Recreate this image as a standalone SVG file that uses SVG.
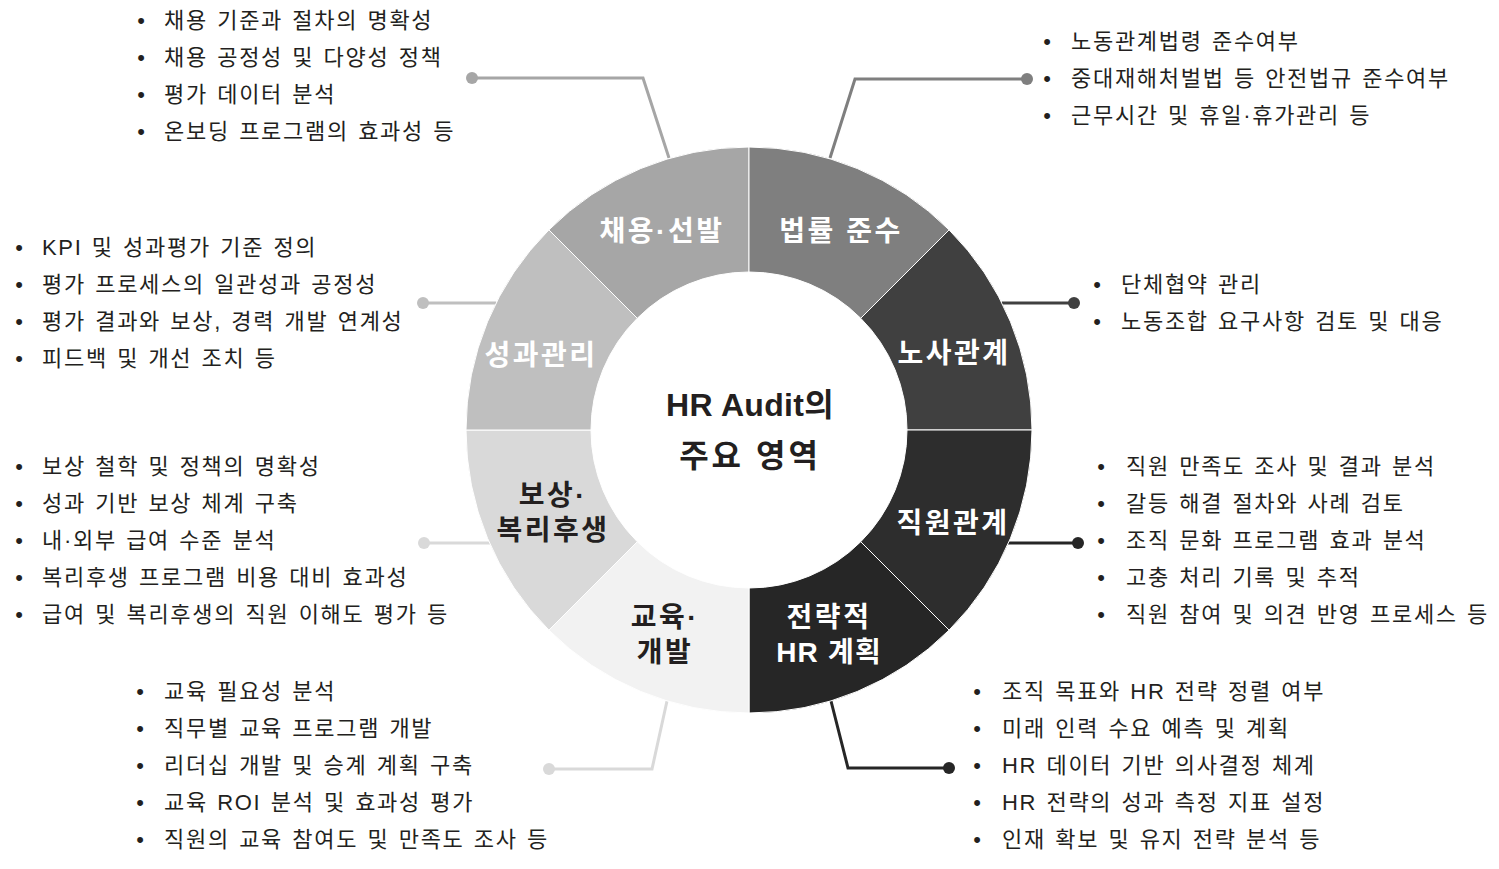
<svg xmlns="http://www.w3.org/2000/svg" width="1499" height="869" viewBox="0 0 1499 869">
<style>
.seg{stroke:#fff;stroke-width:1}
.lbl{font-family:"Liberation Sans","Noto Sans CJK KR",sans-serif;font-weight:bold;font-size:28px;text-anchor:middle;letter-spacing:2.5px}
.ctr{font-size:32px}
.w{fill:#fff}
.d{fill:#231f20}
.item{font-family:"Liberation Sans","Noto Sans CJK KR",sans-serif;font-size:22px;fill:#231f20;letter-spacing:1.7px;word-spacing:1.5px}
.bul{font-family:"Liberation Sans","Noto Sans CJK KR",sans-serif;font-size:22px;fill:#231f20;text-anchor:middle}
.conn{fill:none;stroke-width:3}
</style>
<rect width="1499" height="869" fill="#fff"/>
<g id="connectors">
<polyline class="conn" stroke="#a6a6a6" points="472,78 643,78 669,158"/><circle cx="472" cy="78" r="6" fill="#a6a6a6"/>
<polyline class="conn" stroke="#7f7f7f" points="1027,79 855,79 830,158"/><circle cx="1027" cy="79" r="6" fill="#7f7f7f"/>
<polyline class="conn" stroke="#404040" points="1074,303 1002,303"/><circle cx="1074" cy="303" r="6" fill="#404040"/>
<polyline class="conn" stroke="#bfbfbf" points="423,303 496,303"/><circle cx="423" cy="303" r="6" fill="#bfbfbf"/>
<polyline class="conn" stroke="#d9d9d9" points="424,543 490,543"/><circle cx="424" cy="543" r="6" fill="#d9d9d9"/>
<polyline class="conn" stroke="#262626" points="1078,543 1008,543"/><circle cx="1078" cy="543" r="6" fill="#262626"/>
<polyline class="conn" stroke="#d9d9d9" points="549,769 652,769 667,701"/><circle cx="549" cy="769" r="6" fill="#d9d9d9"/>
<polyline class="conn" stroke="#262626" points="949,768 848,768 831,701"/><circle cx="949" cy="768" r="6" fill="#262626"/>
</g>
<g id="node-center">
<circle cx="749" cy="430" r="158" fill="#fff"/>
<text class="lbl ctr d" x="750" y="416" style="letter-spacing:0.3px">HR Audit의</text>
<text class="lbl ctr d" x="750" y="467" style="letter-spacing:3px">주요 영역</text>
</g>
<g id="node-recruit">
<path class="seg" fill="#a6a6a6" d="M548.89,229.89 A283,283 0 0 1 749,147 L749,272 A158,158 0 0 0 637.28,318.28 Z"/>
<text class="lbl w" x="662" y="241">채용·선발</text>
<text class="bul"><tspan x="141" y="28">•</tspan><tspan x="141" y="65">•</tspan><tspan x="141" y="102">•</tspan><tspan x="141" y="139">•</tspan></text>
<text class="item"><tspan x="164" y="28">채용 기준과 절차의 명확성</tspan><tspan x="164" y="65">채용 공정성 및 다양성 정책</tspan><tspan x="164" y="102">평가 데이터 분석</tspan><tspan x="164" y="139">온보딩 프로그램의 효과성 등</tspan></text>
</g>
<g id="node-legal">
<path class="seg" fill="#7f7f7f" d="M749,147 A283,283 0 0 1 949.11,229.89 L860.72,318.28 A158,158 0 0 0 749,272 Z"/>
<text class="lbl w" x="841" y="241">법률 준수</text>
<text class="bul"><tspan x="1047" y="49">•</tspan><tspan x="1047" y="86">•</tspan><tspan x="1047" y="123">•</tspan></text>
<text class="item"><tspan x="1071" y="49">노동관계법령 준수여부</tspan><tspan x="1071" y="86">중대재해처벌법 등 안전법규 준수여부</tspan><tspan x="1071" y="123">근무시간 및 휴일·휴가관리 등</tspan></text>
</g>
<g id="node-labor">
<path class="seg" fill="#404040" d="M949.11,229.89 A283,283 0 0 1 1032,430 L907,430 A158,158 0 0 0 860.72,318.28 Z"/>
<text class="lbl w" x="954" y="363">노사관계</text>
<text class="bul"><tspan x="1097" y="292">•</tspan><tspan x="1097" y="329">•</tspan></text>
<text class="item"><tspan x="1121" y="292">단체협약 관리</tspan><tspan x="1121" y="329">노동조합 요구사항 검토 및 대응</tspan></text>
</g>
<g id="node-employee">
<path class="seg" fill="#2d2d2d" d="M1032,430 A283,283 0 0 1 949.11,630.11 L860.72,541.72 A158,158 0 0 0 907,430 Z"/>
<text class="lbl w" x="953" y="533">직원관계</text>
<text class="bul"><tspan x="1101" y="474">•</tspan><tspan x="1101" y="511">•</tspan><tspan x="1101" y="548">•</tspan><tspan x="1101" y="585">•</tspan><tspan x="1101" y="622">•</tspan></text>
<text class="item"><tspan x="1126" y="474">직원 만족도 조사 및 결과 분석</tspan><tspan x="1126" y="511">갈등 해결 절차와 사례 검토</tspan><tspan x="1126" y="548">조직 문화 프로그램 효과 분석</tspan><tspan x="1126" y="585">고충 처리 기록 및 추적</tspan><tspan x="1126" y="622">직원 참여 및 의견 반영 프로세스 등</tspan></text>
</g>
<g id="node-strategy">
<path class="seg" fill="#262626" d="M949.11,630.11 A283,283 0 0 1 749,713 L749,588 A158,158 0 0 0 860.72,541.72 Z"/>
<text class="lbl w" x="829" y="627">전략적</text>
<text class="lbl w" x="829" y="662" style="letter-spacing:1.2px">HR 계획</text>
<text class="bul"><tspan x="977" y="699">•</tspan><tspan x="977" y="736">•</tspan><tspan x="977" y="773">•</tspan><tspan x="977" y="810">•</tspan><tspan x="977" y="847">•</tspan></text>
<text class="item"><tspan x="1002" y="699">조직 목표와 HR 전략 정렬 여부</tspan><tspan x="1002" y="736">미래 인력 수요 예측 및 계획</tspan><tspan x="1002" y="773">HR 데이터 기반 의사결정 체계</tspan><tspan x="1002" y="810">HR 전략의 성과 측정 지표 설정</tspan><tspan x="1002" y="847">인재 확보 및 유지 전략 분석 등</tspan></text>
</g>
<g id="node-training">
<path class="seg" fill="#f2f2f2" d="M749,713 A283,283 0 0 1 548.89,630.11 L637.28,541.72 A158,158 0 0 0 749,588 Z"/>
<text class="lbl d" x="665" y="627">교육·</text>
<text class="lbl d" x="665" y="662">개발</text>
<text class="bul"><tspan x="140" y="699">•</tspan><tspan x="140" y="736">•</tspan><tspan x="140" y="773">•</tspan><tspan x="140" y="810">•</tspan><tspan x="140" y="847">•</tspan></text>
<text class="item"><tspan x="164" y="699">교육 필요성 분석</tspan><tspan x="164" y="736">직무별 교육 프로그램 개발</tspan><tspan x="164" y="773">리더십 개발 및 승계 계획 구축</tspan><tspan x="164" y="810">교육 ROI 분석 및 효과성 평가</tspan><tspan x="164" y="847">직원의 교육 참여도 및 만족도 조사 등</tspan></text>
</g>
<g id="node-compensation">
<path class="seg" fill="#d9d9d9" d="M548.89,630.11 A283,283 0 0 1 466,430 L591,430 A158,158 0 0 0 637.28,541.72 Z"/>
<text class="lbl d" x="553" y="505">보상·</text>
<text class="lbl d" x="553" y="540">복리후생</text>
<text class="bul"><tspan x="19" y="474">•</tspan><tspan x="19" y="511">•</tspan><tspan x="19" y="548">•</tspan><tspan x="19" y="585">•</tspan><tspan x="19" y="622">•</tspan></text>
<text class="item"><tspan x="42" y="474">보상 철학 및 정책의 명확성</tspan><tspan x="42" y="511">성과 기반 보상 체계 구축</tspan><tspan x="42" y="548">내·외부 급여 수준 분석</tspan><tspan x="42" y="585">복리후생 프로그램 비용 대비 효과성</tspan><tspan x="42" y="622">급여 및 복리후생의 직원 이해도 평가 등</tspan></text>
</g>
<g id="node-performance">
<path class="seg" fill="#bfbfbf" d="M466,430 A283,283 0 0 1 548.89,229.89 L637.28,318.28 A158,158 0 0 0 591,430 Z"/>
<text class="lbl w" x="541" y="365">성과관리</text>
<text class="bul"><tspan x="19" y="255">•</tspan><tspan x="19" y="292">•</tspan><tspan x="19" y="329">•</tspan><tspan x="19" y="366">•</tspan></text>
<text class="item"><tspan x="42" y="255">KPI 및 성과평가 기준 정의</tspan><tspan x="42" y="292">평가 프로세스의 일관성과 공정성</tspan><tspan x="42" y="329">평가 결과와 보상, 경력 개발 연계성</tspan><tspan x="42" y="366">피드백 및 개선 조치 등</tspan></text>
</g>
</svg>
